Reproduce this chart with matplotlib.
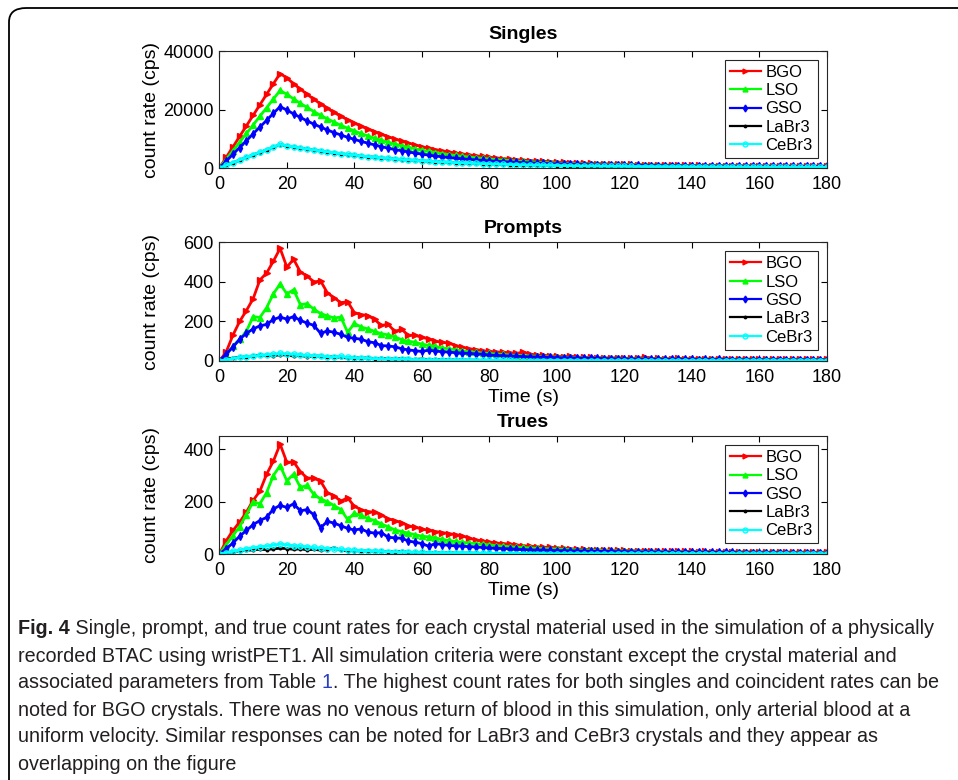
import matplotlib
matplotlib.use("Agg")
import matplotlib.pyplot as plt
from matplotlib.patches import FancyBboxPatch

# time axis (s), sampled every 2 s
t = list(range(0, 181, 2))

crystals = ["BGO", "LSO", "GSO", "LaBr3", "CeBr3"]
colors = ["#ff0000", "#00ff00", "#0000ff", "#000000", "#00ffff"]
markers = [">", "^", "d", ".", "o"]

# ---- Singles (cps)
singles_bgo = [0, 3600, 7200, 10800, 14400, 18000, 21600, 25200, 28800, 32300,
               30800, 28800, 27000, 25200, 23500, 21900, 20400, 19000, 17700, 16500,
               15400, 14300, 13300, 12400, 11500, 10700, 9900, 9200, 8500, 7900,
               7300, 6800, 6300, 5900, 5500, 5100, 4800, 4500, 4200, 3950,
               3700, 3450, 3250, 3050, 2850, 2700, 2550, 2400, 2270, 2150,
               2040, 1940, 1840, 1750, 1670, 1590, 1520, 1450, 1390, 1330,
               1270, 1220, 1170, 1130, 1090, 1050, 1010, 980, 950, 920,
               890, 870, 850, 830, 810, 790, 775, 760, 745, 730,
               720, 710, 700, 690, 680, 672, 665, 658, 651, 645,
               640]
singles_lso = [0, 2900, 5900, 8800, 11800, 14700, 17700, 20600, 23600, 26500,
               25200, 23600, 22100, 20700, 19300, 18000, 16800, 15700, 14600, 13600,
               12700, 11800, 11000, 10200, 9500, 8800, 8200, 7600, 7100, 6600,
               6100, 5700, 5300, 4900, 4600, 4300, 4000, 3750, 3500, 3300,
               3100, 2900, 2720, 2560, 2400, 2260, 2130, 2010, 1900, 1800,
               1710, 1620, 1540, 1470, 1400, 1340, 1280, 1230, 1180, 1130,
               1090, 1050, 1010, 975, 940, 910, 880, 855, 830, 805,
               785, 765, 745, 730, 715, 700, 688, 676, 665, 655,
               645, 637, 629, 622, 615, 609, 603, 598, 593, 588,
               584]
singles_gso = [0, 2300, 4700, 7000, 9300, 11700, 14000, 16300, 18700, 21000,
               19800, 18500, 17300, 16100, 15000, 14000, 13000, 12100, 11300, 10500,
               9800, 9100, 8500, 7900, 7300, 6800, 6300, 5900, 5500, 5100,
               4750, 4400, 4100, 3850, 3600, 3350, 3150, 2950, 2760, 2590,
               2430, 2290, 2160, 2040, 1930, 1830, 1730, 1640, 1560, 1480,
               1410, 1350, 1290, 1230, 1180, 1130, 1090, 1050, 1010, 970,
               940, 910, 880, 850, 825, 800, 780, 760, 740, 720,
               705, 690, 675, 662, 650, 638, 627, 617, 607, 598,
               590, 582, 575, 568, 562, 556, 551, 546, 541, 537,
               533]
singles_labr3 = [0, 900, 1800, 2700, 3600, 4500, 5300, 6200, 7100, 8000,
                 7600, 7200, 6800, 6500, 6100, 5800, 5500, 5200, 4900, 4600,
                 4350, 4100, 3880, 3660, 3460, 3260, 3080, 2900, 2740, 2580,
                 2440, 2300, 2170, 2050, 1940, 1830, 1730, 1640, 1550, 1470,
                 1390, 1320, 1250, 1190, 1130, 1070, 1020, 970, 920, 880,
                 840, 800, 765, 730, 700, 670, 640, 615, 590, 565,
                 545, 525, 505, 487, 470, 454, 438, 424, 410, 397,
                 385, 373, 362, 352, 342, 333, 324, 316, 308, 301,
                 294, 288, 282, 276, 271, 266, 261, 257, 253, 249,
                 245]
singles_cebr3 = [0, 920, 1830, 2750, 3650, 4550, 5400, 6300, 7200, 8100,
                 7650, 7250, 6850, 6500, 6150, 5850, 5550, 5250, 4950, 4650,
                 4400, 4150, 3900, 3700, 3480, 3280, 3100, 2920, 2760, 2600,
                 2460, 2320, 2190, 2070, 1950, 1840, 1740, 1650, 1560, 1480,
                 1400, 1330, 1260, 1200, 1140, 1080, 1030, 980, 930, 890,
                 850, 810, 770, 735, 705, 675, 645, 620, 595, 570,
                 550, 530, 510, 490, 473, 457, 441, 427, 413, 400,
                 388, 376, 365, 355, 345, 336, 327, 319, 311, 304,
                 297, 291, 285, 279, 274, 269, 264, 260, 256, 252,
                 248]

# ---- Prompts (cps)
prompts_bgo = [0, 45, 130, 200, 255, 315, 410, 445, 505, 570,
               475, 515, 450, 430, 400, 405, 345, 320, 295, 300,
               245, 235, 230, 210, 180, 185, 150, 160, 130, 130,
               120, 112, 100, 95, 90, 78, 70, 62, 58, 52,
               48, 46, 44, 42, 38, 45, 35, 30, 28, 26,
               25, 22, 24, 20, 18, 19, 17, 16, 15, 17,
               14, 13, 15, 18, 12, 13, 12, 11, 13, 12,
               11, 12, 10, 11, 10, 12, 9, 10, 11, 9,
               10, 8, 10, 9, 8, 9, 10, 8, 9, 8,
               9]
prompts_lso = [0, 30, 75, 110, 150, 225, 220, 270, 340, 390,
               340, 360, 285, 290, 262, 240, 228, 218, 222, 145,
               190, 172, 162, 150, 138, 132, 122, 108, 100, 95,
               85, 80, 74, 66, 62, 56, 52, 47, 44, 40,
               38, 35, 33, 30, 28, 27, 25, 24, 22, 21,
               20, 19, 18, 17, 16, 15, 15, 14, 13, 13,
               12, 12, 11, 11, 10, 11, 10, 9, 10, 9,
               9, 8, 9, 8, 9, 8, 7, 8, 7, 8,
               7, 8, 7, 6, 7, 6, 7, 6, 7, 6,
               6]
prompts_gso = [0, 35, 70, 110, 140, 162, 178, 185, 210, 222,
               212, 225, 205, 192, 180, 140, 152, 145, 135, 120,
               115, 110, 98, 92, 78, 76, 72, 62, 56, 52,
               48, 55, 50, 47, 45, 42, 40, 38, 36, 34,
               30, 28, 27, 25, 24, 22, 21, 20, 19, 18,
               17, 16, 16, 15, 14, 14, 13, 12, 12, 11,
               11, 10, 10, 9, 10, 9, 9, 8, 9, 8,
               8, 7, 8, 7, 8, 7, 7, 6, 7, 6,
               7, 6, 6, 7, 6, 5, 6, 6, 5, 6,
               5]
prompts_labr3 = [0, 8, 15, 18, 22, 25, 30, 28, 26, 32,
                 30, 25, 28, 22, 26, 24, 20, 22, 18, 15,
                 17, 14, 16, 12, 14, 11, 10, 12, 9, 8,
                 10, 7, 8, 6, 7, 5, 6, 4, 5, 3,
                 4, 2, 5, 3, 4, 2, 3, 2, 3, 1,
                 2, 3, 1, 2, 1, 2, 1, 2, 0, 1,
                 1, 0, 2, 1, 0, 1, 1, 0, 1, 0,
                 1, 0, 1, 1, 0, 1, 0, 1, 0, 1,
                 0, 1, 0, 1, 1, 0, 1, 0, 1, 0,
                 1]
prompts_cebr3 = [0, 6, 12, 18, 22, 25, 28, 32, 35, 38,
                 36, 34, 30, 28, 27, 25, 22, 20, 24, 18,
                 16, 15, 13, 12, 11, 10, 9, 9, 8, 7,
                 7, 6, 6, 5, 5, 5, 4, 4, 4, 3,
                 3, 3, 3, 3, 2, 2, 2, 2, 2, 2,
                 2, 2, 2, 1, 2, 1, 2, 1, 1, 1,
                 1, 1, 1, 1, 1, 1, 1, 1, 1, 1,
                 1, 1, 1, 1, 1, 1, 1, 1, 1, 1,
                 1, 1, 1, 1, 1, 1, 1, 1, 1, 1,
                 1]

# ---- Trues (cps)
trues_bgo = [0, 50, 90, 122, 160, 205, 240, 305, 355, 420,
             350, 352, 315, 290, 290, 278, 235, 222, 202, 215,
             182, 170, 162, 160, 150, 135, 128, 120, 108, 102,
             96, 90, 86, 82, 78, 74, 70, 60, 54, 50,
             46, 42, 40, 38, 35, 32, 30, 28, 26, 25,
             24, 22, 20, 19, 18, 17, 16, 15, 15, 14,
             14, 13, 12, 13, 12, 11, 11, 10, 11, 10,
             10, 9, 10, 9, 9, 8, 9, 8, 9, 8,
             8, 7, 8, 7, 8, 7, 7, 8, 7, 7,
             7]
trues_lso = [0, 35, 70, 105, 150, 200, 192, 235, 300, 338,
             280, 305, 255, 262, 228, 210, 200, 185, 170, 132,
             155, 148, 136, 128, 115, 104, 92, 86, 80, 74,
             68, 66, 62, 56, 52, 48, 45, 42, 40, 37,
             35, 32, 30, 28, 26, 25, 23, 22, 21, 20,
             19, 18, 17, 16, 15, 15, 14, 13, 13, 12,
             12, 11, 11, 10, 10, 10, 9, 9, 9, 8,
             8, 8, 8, 7, 7, 7, 7, 7, 6, 6,
             6, 6, 6, 6, 5, 5, 5, 5, 5, 5,
             5]
trues_gso = [0, 20, 42, 68, 90, 112, 128, 140, 172, 186,
             178, 192, 165, 170, 150, 100, 125, 118, 108, 98,
             92, 96, 84, 80, 82, 64, 62, 60, 50, 45,
             40, 30, 40, 36, 33, 31, 30, 28, 27, 25,
             23, 22, 21, 20, 18, 17, 16, 15, 15, 14,
             13, 13, 12, 12, 11, 11, 10, 10, 10, 9,
             9, 9, 8, 8, 8, 8, 7, 7, 7, 7,
             7, 6, 6, 6, 6, 6, 6, 5, 5, 5,
             5, 5, 5, 5, 5, 4, 4, 4, 4, 4,
             4]
trues_labr3 = [0, 5, 9, 12, 14, 16, 18, 17, 20, 22,
               21, 18, 20, 16, 18, 15, 17, 24, 14, 12,
               13, 11, 12, 10, 11, 9, 8, 10, 7, 6,
               7, 5, 6, 4, 5, 4, 3, 4, 3, 2,
               3, 2, 3, 2, 1, 2, 3, 1, 2, 1,
               1, 2, 1, 1, 2, 1, 0, 1, 1, 0,
               1, 0, 1, 1, 0, 1, 0, 1, 0, 1,
               0, 1, 0, 1, 0, 1, 1, 0, 1, 0,
               1, 0, 1, 0, 1, 0, 1, 1, 0, 1,
               0]
trues_cebr3 = [0, 5, 10, 15, 20, 24, 28, 30, 34, 38,
               35, 32, 30, 28, 25, 23, 21, 19, 18, 16,
               14, 13, 12, 11, 10, 9, 8, 8, 7, 6,
               6, 5, 5, 5, 4, 4, 4, 3, 3, 3,
               3, 2, 2, 2, 2, 2, 2, 2, 2, 1,
               1, 1, 1, 1, 1, 1, 1, 1, 1, 1,
               1, 1, 1, 1, 1, 1, 1, 1, 1, 1,
               1, 1, 1, 1, 1, 1, 1, 1, 1, 1,
               1, 1, 1, 1, 1, 1, 1, 1, 1, 1,
               1]

panels = [
    ("Singles", [singles_bgo, singles_lso, singles_gso, singles_labr3, singles_cebr3],
     40000, [0, 20000, 40000], False, 8.5),
    ("Prompts", [prompts_bgo, prompts_lso, prompts_gso, prompts_labr3, prompts_cebr3],
     600, [0, 200, 400, 600], True, 6.5),
    ("Trues", [trues_bgo, trues_lso, trues_gso, trues_labr3, trues_cebr3],
     450, [0, 200, 400], True, 6.5),
]

plt.rcParams["font.family"] = ["Liberation Sans", "DejaVu Sans"]

fig = plt.figure(figsize=(9.58, 7.80), dpi=100)

# rounded frame around the figure (runs off right and bottom)
frame = FancyBboxPatch((9 / 958, -0.1), 1.2, 1.1 - 8 / 780,
                       boxstyle="round,pad=0,rounding_size=0.018",
                       transform=fig.transFigure, fill=False,
                       edgecolor="black", linewidth=1.3)
fig.patches.append(frame)

axes_rect = [(0.229, 0.7846, 0.634, 0.150),
             (0.229, 0.5372, 0.634, 0.152),
             (0.229, 0.2897, 0.634, 0.151)]

for (title, series, ytop, yticks, show_xlabel, tpad), rect in zip(panels, axes_rect):
    ax = fig.add_axes(rect)
    for name, vals, c, m in zip(crystals, series, colors, markers):
        mfc = "none" if m == "o" else c
        ax.plot(t, vals, color=c, marker=m, markersize=3.8, mfc=mfc,
                linewidth=2.0, label=name)
    ax.set_xlim(0, 180)
    ax.set_ylim(0, ytop)
    ax.set_xticks(range(0, 181, 20))
    ax.set_yticks(yticks)
    ax.tick_params(direction="in", top=True, right=True, length=4,
                   labelsize=13)
    ax.tick_params(axis="x", pad=6)
    ax.tick_params(axis="y", pad=4)
    for s in ax.spines.values():
        s.set_linewidth(0.8)
        s.set_color("#262626")
    ax.set_title(title, fontsize=14, fontweight="bold", pad=tpad)
    ax.set_ylabel("count rate (cps)", fontsize=14)
    ax.yaxis.set_label_coords(-0.098, 0.5)
    if show_xlabel:
        ax.set_xlabel("Time (s)", fontsize=14, labelpad=2)
    leg = ax.legend(loc="upper right", bbox_to_anchor=(0.985, 0.925),
                    fontsize=12, numpoints=1, handlelength=1.9,
                    handletextpad=0.25, labelspacing=0.2, borderpad=0.3,
                    borderaxespad=0, fancybox=False, framealpha=1)
    leg.get_frame().set_edgecolor("#262626")
    leg.get_frame().set_linewidth(0.8)
    for h in leg.get_lines():
        h.set_markersize(3.5)
        h.set_linewidth(1.6)

# caption, drawn piece by piece so that bold and blue parts line up
cap_font = ["Liberation Sans", "DejaVu Sans"]
cap_size = 14.2
cap_color = "#231f20"
cap_lines = [
    [("Fig. 4", "bold", cap_color),
     (" Single, prompt, and true count rates for each crystal material used in the simulation of a physically", "normal", cap_color)],
    [("recorded BTAC using wristPET1. All simulation criteria were constant except the crystal material and", "normal", cap_color)],
    [("associated parameters from Table ", "normal", cap_color), ("1", "normal", "#2a3fbf"),
     (". The highest count rates for both singles and coincident rates can be", "normal", cap_color)],
    [("noted for BGO crystals. There was no venous return of blood in this simulation, only arterial blood at a", "normal", cap_color)],
    [("uniform velocity. Similar responses can be noted for LaBr3 and CeBr3 crystals and they appear as", "normal", cap_color)],
    [("overlapping on the figure", "normal", cap_color)],
]
line_y = [629, 656, 683, 710, 737, 764]

renderer = fig.canvas.get_renderer()
for parts, yy in zip(cap_lines, line_y):
    x = 18 / 958
    for text, weight, col in parts:
        txt = fig.text(x, 1 - yy / 780, text, fontsize=cap_size, fontweight=weight,
                       color=col, family=cap_font, va="center", ha="left")
        bb = txt.get_window_extent(renderer)
        x = bb.x1 / fig.bbox.width

fig.savefig("out.png", dpi=100)
